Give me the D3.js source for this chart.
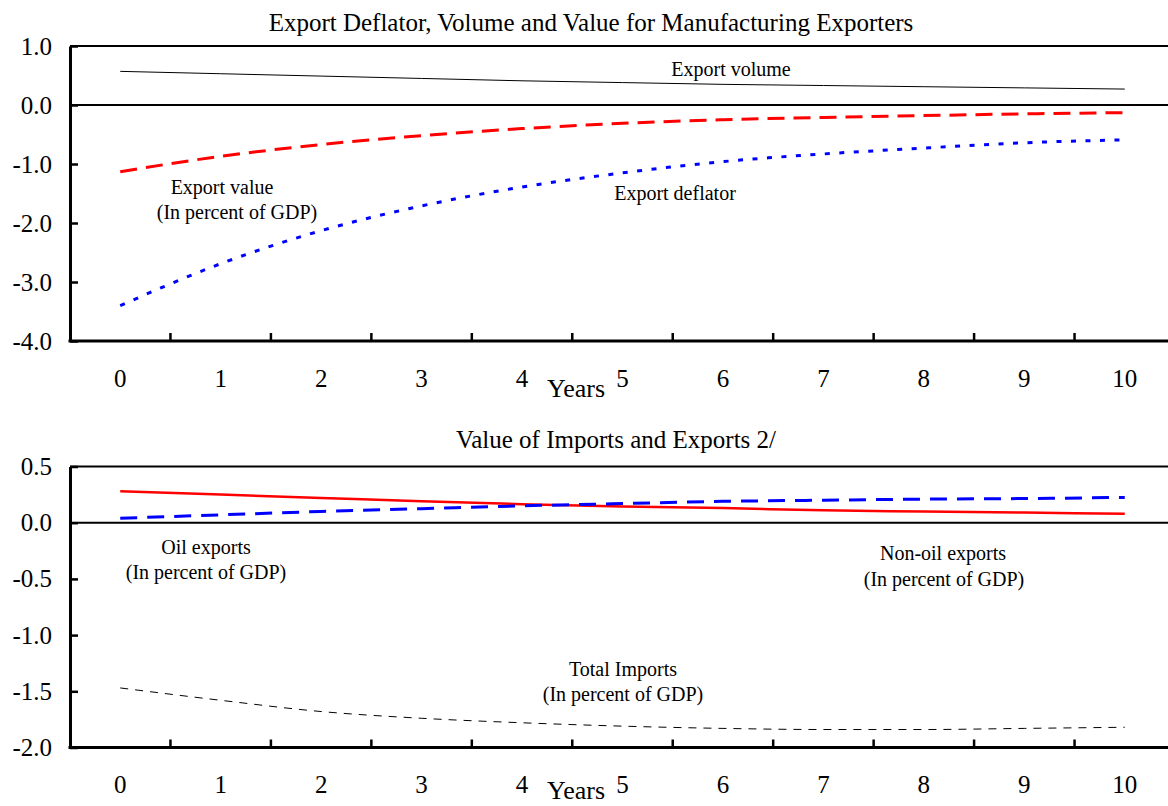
<!DOCTYPE html>
<html><head><meta charset="utf-8">
<script src="https://cdn.jsdelivr.net/npm/d3@7"></script>
<style>body{margin:0;background:#fff}svg{display:block}text{font-family:"Liberation Serif","Times New Roman",serif;fill:#000}</style>
</head><body><svg id="c" width="1168" height="806"></svg>
<script>
const years = [0,1,2,3,4,5,6,7,8,9,10];
const exportVolume   = [0.57,0.53,0.49,0.45,0.41,0.38,0.35,0.33,0.31,0.29,0.27];
const exportValue    = [-1.13,-0.87,-0.67,-0.52,-0.40,-0.31,-0.25,-0.21,-0.18,-0.15,-0.13];
const exportDeflator = [-3.40,-2.69,-2.13,-1.71,-1.39,-1.15,-0.96,-0.83,-0.73,-0.64,-0.59];
const oilExports     = [0.28,0.25,0.22,0.19,0.165,0.145,0.13,0.11,0.10,0.09,0.08];
const nonOilExports  = [0.04,0.07,0.10,0.125,0.15,0.17,0.19,0.20,0.21,0.215,0.225];
const totalImports   = [-1.47,-1.58,-1.68,-1.74,-1.78,-1.81,-1.83,-1.84,-1.84,-1.83,-1.82];
const topTicks = [1.0,0.0,-1.0,-2.0,-3.0,-4.0];
const botTicks = [0.5,0.0,-0.5,-1.0,-1.5,-2.0];
const title1 = "Export Deflator, Volume and Value for Manufacturing Exporters";
const title2 = "Value of Imports and Exports 2/";

const svg = d3.select("#c");
const W = 1168;
const FONT = "Liberation Serif, Times New Roman, serif";
const x = d3.scaleBand().domain(years).range([70, 1175]).padding(0);
const cx = d => x(d) + x.bandwidth()/2;
const fmt = d => d3.format(".1f")(d).replace("\u2212","-");

function panel(cfg){
  const y = d3.scaleLinear().domain(cfg.domain).range([cfg.y0, cfg.y1]);
  const g = svg.append("g");
  g.append("text").attr("x", cfg.titleX).attr("y", cfg.titleY).attr("text-anchor","middle")
    .style("font-size","25px").text(cfg.title);
  g.append("line").attr("x1",70).attr("x2",W).attr("y1",y(cfg.domain[1])).attr("y2",y(cfg.domain[1]))
    .attr("stroke","#000").attr("stroke-width",2);
  g.append("line").attr("x1",70).attr("x2",W).attr("y1",y(0)).attr("y2",y(0))
    .attr("stroke","#000").attr("stroke-width",2);
  const ya = g.append("g").attr("transform","translate(70,0)")
    .call(d3.axisLeft(y).tickValues(cfg.ticks).tickFormat(fmt).tickSizeInner(-8).tickSizeOuter(0).tickPadding(18));
  ya.attr("font-family",FONT).attr("font-size",25);
  ya.select(".domain").attr("stroke-width",3);
  ya.selectAll(".tick line").attr("stroke-width",2.5);
  const xa = g.append("g").attr("transform",`translate(0,${cfg.y0})`)
    .call(d3.axisBottom(x).tickSize(0).tickPadding(28));
  xa.attr("font-family",FONT).attr("font-size",25);
  xa.select(".domain").remove();
  g.append("line").attr("x1",68.5).attr("x2",W).attr("y1",cfg.y0).attr("y2",cfg.y0)
    .attr("stroke","#000").attr("stroke-width",3);
  years.slice(1).forEach(d=>{
    g.append("line").attr("x1",x(d)).attr("x2",x(d)).attr("y1",cfg.y0).attr("y2",cfg.y0-8)
      .attr("stroke","#000").attr("stroke-width",2.5);
  });
  g.append("text").attr("x",576).attr("y",Math.min(cfg.y0+56, 799)).attr("text-anchor","middle")
    .style("font-size","26px").text("Years");
  const line = d3.line().x((d,i)=>cx(years[i])).y(d=>y(d)).curve(d3.curveMonotoneX);
  cfg.series.forEach(s=>{
    g.append("path").datum(s.values).attr("d",line).attr("fill","none")
      .attr("stroke",s.color).attr("stroke-width",s.width)
      .attr("stroke-dasharray",s.dash||null);
  });
  cfg.labels.forEach(l=>{
    g.append("text").attr("x",l[0]).attr("y",l[1]).attr("text-anchor","middle")
      .attr("dy","0.35em").style("font-size","20px").text(l[2]);
  });
}

panel({
  domain:[-4,1], y0:341, y1:46, ticks:topTicks, title:title1, titleX:591, titleY:31,
  series:[
    {values:exportVolume, color:"#000", width:1},
    {values:exportValue, color:"#ff0000", width:3, dash:"17,9"},
    {values:exportDeflator, color:"#0000ff", width:3, dash:"5,9.5"}
  ],
  labels:[[731,69,"Export volume"],[222,187,"Export value"],[237,212,"(In percent of GDP)"],[675,193,"Export deflator"]]
});
panel({
  domain:[-2,0.5], y0:747.5, y1:466.5, ticks:botTicks, title:title2, titleX:616, titleY:448,
  series:[
    {values:oilExports, color:"#ff0000", width:2.5},
    {values:nonOilExports, color:"#0000ff", width:3, dash:"17,10"},
    {values:totalImports, color:"#000", width:1, dash:"8,7"}
  ],
  labels:[[206,547,"Oil exports"],[206,572,"(In percent of GDP)"],[943,553,"Non-oil exports"],[944,579,"(In percent of GDP)"],[623,669,"Total Imports"],[623,694,"(In percent of GDP)"]]
});
</script></body></html>
